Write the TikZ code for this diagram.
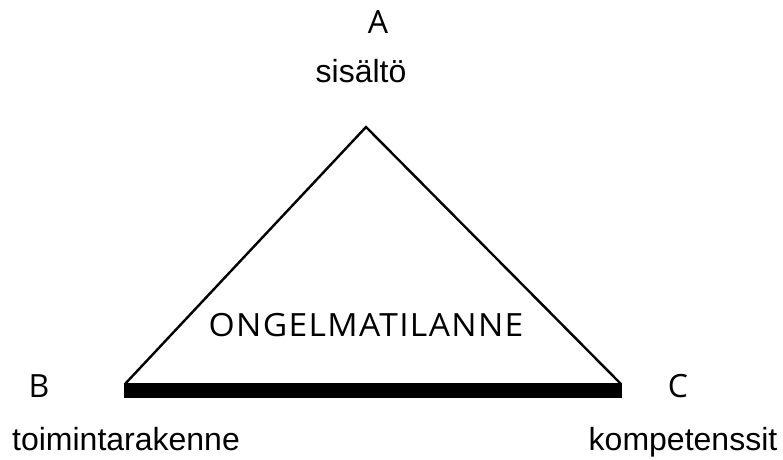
\documentclass[tikz,border=0pt]{standalone}
\usepackage{fontspec}
\setmainfont{Liberation Sans}
\newfontfamily\labfont{Open Sans}
\newfontfamily\titfont[LetterSpace=4]{Open Sans}
\begin{document}
\begin{tikzpicture}[x=1pt,y=-1pt,
  lbl/.style={font=\fontsize{32}{36}\selectfont, anchor=base, inner sep=0pt},
  letter/.style={font=\labfont\fontsize{32}{36}\selectfont, anchor=base, inner sep=0pt},
  side/.style={line width=2.4pt, line join=miter}]
\useasboundingbox (0,0) rectangle (783,459);
\coordinate (apex) at (366,127);
\coordinate (bl) at (125,384);
\coordinate (br) at (621,384);
\draw[side] (bl) -- (apex) -- (br);
\fill (124,383) rectangle (622,398);
\node[letter] (A) at (378,33) {A};
\node[lbl] (a) at (361,82) {sisältö};
\node[letter] (B) at (39,397) {B};
\node[letter] (C) at (678,397) {C};
\node[lbl] (b) at (126,450) {toimintarakenne};
\node[lbl] (c) at (683,450) {kompetenssit};
\node[anchor=base, inner sep=0pt, font=\titfont\fontsize{32}{36}\selectfont] (p) at (366,336) {\scalebox{1.05}[1]{ONGELMATILANNE}};
\end{tikzpicture}
\end{document}
